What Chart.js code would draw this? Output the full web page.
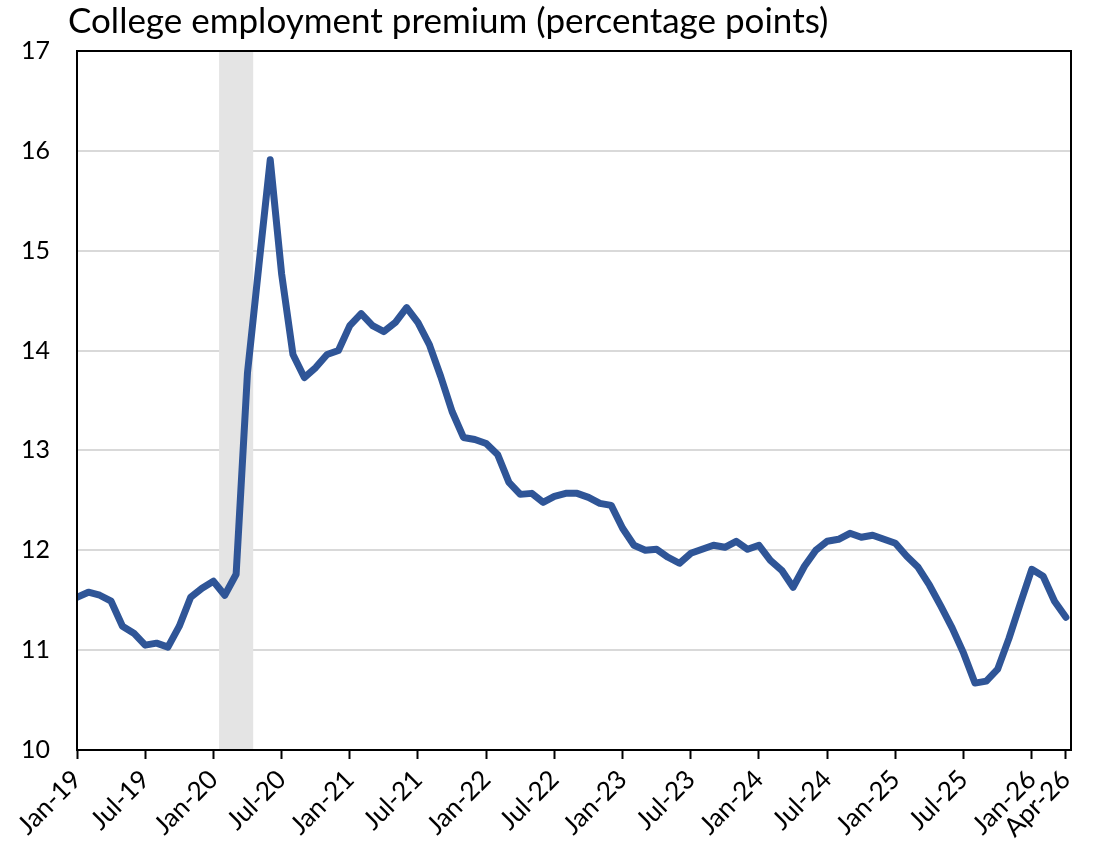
<!DOCTYPE html>
<html>
<head>
<meta charset="utf-8">
<script src="https://cdn.jsdelivr.net/npm/chart.js@4"></script>
<style>
  html, body { margin: 0; padding: 0; background: #ffffff; }
  #wrap { position: relative; width: 1096px; height: 850px; }
  #title {
    position: absolute; left: 68px; top: -2px;
    font-family: Lato, sans-serif; font-size: 35px; color: #000;
    white-space: nowrap;
  }
</style>
</head>
<body>
<div id="wrap">
  <div id="title">College employment premium (percentage points)</div>
  <canvas id="premiumChart" width="1096" height="850"></canvas>
</div>
<script>
// === DATA ===
// monthly categories, Jan-19 .. Apr-26
const monthNames = ['Jan', 'Feb', 'Mar', 'Apr', 'May', 'Jun', 'Jul', 'Aug', 'Sep', 'Oct', 'Nov', 'Dec'];
const months = [];
for (let y = 19; y <= 26; y++) {
    monthNames.forEach(function(m, i) {
        if (y === 26 && i > 3) return;
        months.push(m + '-' + y);
    });
}

// college employment premium, percentage points
const premium = [
    11.53, 11.58, 11.55, 11.49, 11.24, 11.17, 11.05, 11.07, 11.03, 11.24, 11.53, 11.62,  // 2019
    11.69, 11.55, 11.76, 13.78, 14.85, 15.91, 14.77, 13.96, 13.73, 13.83, 13.96, 14.00,  // 2020
    14.25, 14.37, 14.25, 14.19, 14.28, 14.43, 14.28, 14.06, 13.74, 13.39, 13.13, 13.11,  // 2021
    13.07, 12.96, 12.68, 12.56, 12.57, 12.48, 12.54, 12.57, 12.57, 12.53, 12.47, 12.45,  // 2022
    12.22, 12.05, 12.00, 12.01, 11.93, 11.87, 11.97, 12.01, 12.05, 12.03, 12.09, 12.01,  // 2023
    12.05, 11.90, 11.80, 11.63, 11.84, 12.00, 12.09, 12.11, 12.17, 12.13, 12.15, 12.11,  // 2024
    12.07, 11.94, 11.83, 11.65, 11.44, 11.22, 10.97, 10.67, 10.69, 10.81, 11.12, 11.47,  // 2025
    11.81, 11.74, 11.49, 11.33                                                           // 2026
];

const tickLabels = ['Jan-19', 'Jul-19', 'Jan-20', 'Jul-20', 'Jan-21', 'Jul-21', 'Jan-22', 'Jul-22',
    'Jan-23', 'Jul-23', 'Jan-24', 'Jul-24', 'Jan-25', 'Jul-25', 'Jan-26', 'Apr-26'];
const yTicks = [10, 11, 12, 13, 14, 15, 16, 17];

// shaded recession months
const recession = ['Feb-20', 'Apr-20'];

const FONT = 'Lato, sans-serif';

// shaded band + box border
const recessionBand = {
    id: 'recessionBand',
    beforeDatasetsDraw(chart) {
        const x = chart.scales.x;
        const area = chart.chartArea;
        const x0 = x.getPixelForValue(months.indexOf(recession[0]) - 0.5);
        const x1 = x.getPixelForValue(months.indexOf(recession[1]) + 0.5);
        const ctx = chart.ctx;
        ctx.save();
        ctx.fillStyle = '#e4e4e4';
        ctx.fillRect(x0, area.top + 1, x1 - x0, area.bottom - area.top - 2);
        ctx.restore();
    },
    afterDraw(chart) {
        const area = chart.chartArea;
        const ctx = chart.ctx;
        ctx.save();
        ctx.strokeStyle = '#000000';
        ctx.lineWidth = 2;
        ctx.strokeRect(area.left, area.top, area.right - area.left, area.bottom - area.top);
        ctx.restore();
    }
};

new Chart(document.getElementById('premiumChart').getContext('2d'), {
    type: 'line',
    data: {
        datasets: [{
            data: premium.map(function(v, i) { return { x: i, y: v }; }),
            borderColor: '#2f5597',
            borderWidth: 7,
            borderJoinStyle: 'round',
            borderCapStyle: 'round',
            pointRadius: 0,
            tension: 0,
            fill: false
        }]
    },
    options: {
        responsive: false,
        animation: false,
        layout: { padding: { top: 51, right: 25, left: 0, bottom: 0 } },
        plugins: {
            legend: { display: false },
            tooltip: { enabled: false },
            title: { display: false }
        },
        scales: {
            x: {
                type: 'linear',
                min: 0,
                max: 87.45,
                afterBuildTicks: function(axis) {
                    axis.ticks = tickLabels.map(function(l) { return { value: months.indexOf(l) }; });
                },
                afterFit: function(axis) { axis.height = 100; },
                ticks: {
                    autoSkip: false,
                    maxRotation: 45,
                    minRotation: 45,
                    padding: 5,
                    color: '#000000',
                    font: { family: FONT, size: 26 },
                    callback: function(value) { return months[value]; }
                },
                grid: {
                    drawOnChartArea: false,
                    drawTicks: true,
                    tickLength: 9,
                    tickWidth: 2,
                    tickColor: '#000000'
                },
                border: { display: true, color: '#000000', width: 2 }
            },
            y: {
                min: 10,
                max: 17,
                afterBuildTicks: function(axis) {
                    axis.ticks = yTicks.map(function(v) { return { value: v }; });
                },
                afterFit: function(axis) { axis.width = 77; },
                ticks: {
                    padding: 27,
                    color: '#000000',
                    font: { family: FONT, size: 25 }
                },
                grid: {
                    drawTicks: false,
                    color: '#d9d9d9',
                    lineWidth: 2
                },
                border: { display: true, color: '#000000', width: 2 }
            }
        }
    },
    plugins: [recessionBand]
});
</script>
</body>
</html>
